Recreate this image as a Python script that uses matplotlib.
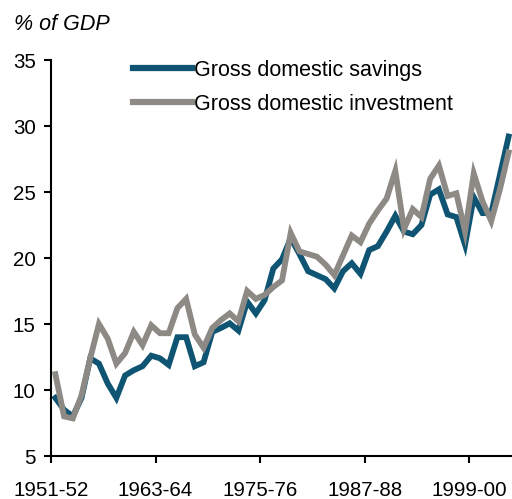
import matplotlib
matplotlib.use("Agg")
import matplotlib.pyplot as plt
import numpy as np

plt.rcParams['font.family'] = ['Liberation Sans', 'DejaVu Sans']

tick_labels = ["1951-52", "1963-64", "1975-76", "1987-88", "1999-00"]

savings = [9.4, 8.5, 8.0, 9.4, 12.4, 12.0, 10.5, 9.4, 11.1, 11.5,
           11.8, 12.6, 12.4, 11.9, 14.0, 14.0, 11.8, 12.1, 14.4, 14.7,
           15.05, 14.5, 16.7, 15.8, 16.8, 19.2, 19.9, 21.5, 20.3, 19.0,
           18.7, 18.4, 17.7, 19.0, 19.6, 18.8, 20.6, 20.9, 22.0, 23.2,
           22.0, 21.8, 22.5, 24.8, 25.2, 23.3, 23.1, 21.0, 24.6, 23.4,
           23.4, 26.3, 29.2]

investment = [11.2, 8.0, 7.85, 9.6, 12.4, 15.0, 13.9, 12.0, 12.8, 14.4,
              13.4, 14.9, 14.3, 14.3, 16.2, 16.9, 14.2, 13.2, 14.7, 15.3,
              15.8, 15.2, 17.5, 16.9, 17.2, 17.8, 18.3, 21.9, 20.5, 20.3,
              20.1, 19.5, 18.7, 20.2, 21.7, 21.2, 22.6, 23.6, 24.5, 26.6,
              22.2, 23.7, 23.1, 26.0, 27.0, 24.7, 24.9, 22.0, 26.4, 24.3,
              22.8, 25.2, 28.0]

n = len(savings)
x = np.arange(n) + 0.5

W, H = 512, 499
fig = plt.figure(figsize=(W / 100, H / 100), dpi=100)
ax = fig.add_axes([51 / W, 43 / H, 462 / W, (456 - 60) / H])

blue = '#0f5573'
gray = '#8d8985'
ax.plot(x, savings, color=blue, lw=4.2, solid_joinstyle='miter', label='Gross domestic savings')
ax.plot(x, investment, color=gray, lw=4.2, solid_joinstyle='miter', label='Gross domestic investment')

ax.set_xlim(0, n)
ax.set_ylim(5, 35)
ax.set_yticks(np.arange(5, 36, 5))
ax.set_xticks(np.arange(0, n, 12))
ax.set_xticklabels(tick_labels)

for s in ['top', 'right']:
    ax.spines[s].set_visible(False)
for s in ['left', 'bottom']:
    ax.spines[s].set_linewidth(1.5)
    ax.spines[s].set_color('black')

ax.tick_params(axis='both', direction='out', length=5, width=1.5, labelsize=14.8, colors='black')
ax.tick_params(axis='y', pad=6)
ax.tick_params(axis='x', pad=13)

fig.text(14 / W, 1 - 24 / H, '% of GDP', fontsize=15.5, style='italic', va='center', ha='left')

leg = ax.legend(loc='upper left', bbox_to_anchor=(133 / W, 1 - 60 / H),
                bbox_transform=fig.transFigure, frameon=False, fontsize=15.5,
                handlelength=2.75, handletextpad=0.1, labelspacing=0.6,
                borderpad=0, borderaxespad=0)
for line in leg.get_lines():
    line.set_linewidth(4.5)

fig.savefig('out.png', dpi=100)
